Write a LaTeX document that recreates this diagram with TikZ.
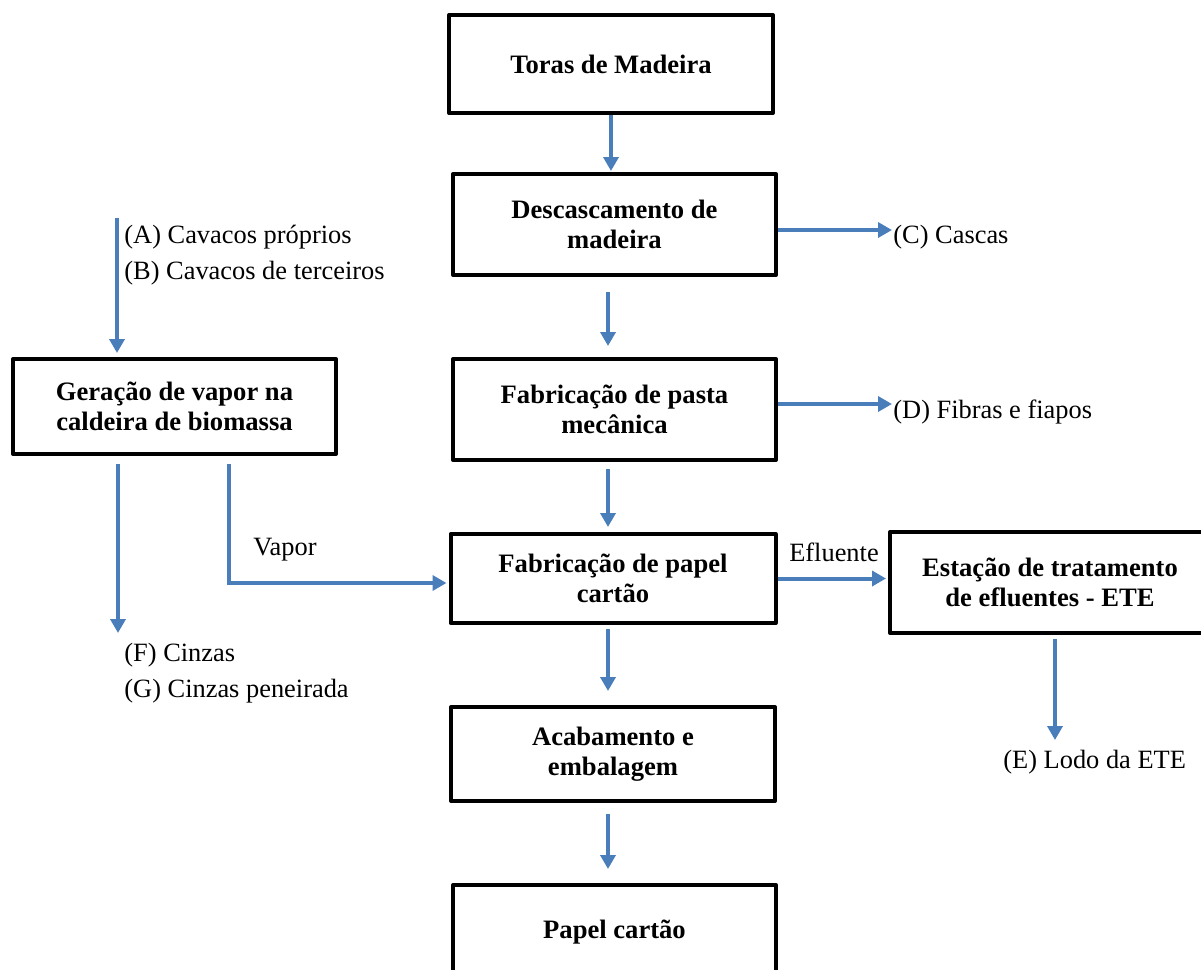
\documentclass[tikz,border=0pt]{standalone}
\usepackage{fontspec}
\setmainfont{Liberation Serif}
\usetikzlibrary{arrows.meta}
\definecolor{flowblue}{RGB}{74,126,187}
\newcommand\stepfont{\fontsize{13.3}{15}\selectfont\bfseries}
\newcommand\notefont{\fontsize{13.2}{15}\selectfont}
\tikzset{
  stepbox/.style={draw=black, line width=2pt, line join=round, fill=white,
    align=center, font=\stepfont, inner sep=0pt},
  flow/.style={draw=flowblue, line width=2pt,
    -{Triangle[length=7pt,width=7.5pt]}},
  note/.style={font=\notefont, inner sep=0pt},
}
\begin{document}
\begin{tikzpicture}[x=0.5pt,y=-0.5pt]
\path[use as bounding box, clip] (0,0) rectangle (1201,970);
\fill[white] (0,0) rectangle (1201,970);

% process steps
\node[stepbox, minimum width=162pt, minimum height=49pt]   (toras)  at (611,64)     {Toras de Madeira};
\node[stepbox, minimum width=161.5pt, minimum height=50.5pt] (desc) at (614.5,224.5) {Descascamento de\\madeira};
\node[stepbox, minimum width=161.5pt, minimum height=50.5pt] (pasta) at (614.5,409.5) {Fabricação de pasta\\mecânica};
\node[stepbox, minimum width=162.5pt, minimum height=44.5pt] (papel) at (613,578.5)  {Fabricação de papel\\cartão};
\node[stepbox, minimum width=162pt, minimum height=47pt]   (acab)   at (613,754)     {Acabamento e\\embalagem};
\node[stepbox, minimum width=161.5pt, minimum height=47pt] (final)  at (614.5,932)   {Papel cartão};
\node[stepbox, minimum width=161.5pt, minimum height=47.5pt] (gerac) at (174.5,406.5) {Geração de vapor na\\caldeira de biomassa};
\node[stepbox, minimum width=160pt, minimum height=50.5pt] (ete)    at (1050,582.5)  {Estação de tratamento\\de efluentes - ETE};

% side notes
\node[note, anchor=west] (cavA)   at (124,237) {(A) Cavacos próprios};
\node[note, anchor=west] (cavB)   at (124,273) {(B) Cavacos de terceiros};
\node[note, anchor=west] (cascas) at (893,237) {(C) Cascas};
\node[note, anchor=west] (fibras) at (893,412) {(D) Fibras e fiapos};
\node[note, anchor=west] (lodo)   at (1003,762) {(E) Lodo da ETE};
\node[note, anchor=west] (cinzF)  at (124,655) {(F) Cinzas};
\node[note, anchor=west] (cinzG)  at (124,691) {(G) Cinzas peneirada};
\node[note] (vapor)    at (285,550) {Vapor};
\node[note] (efluente) at (834,552) {Efluente};

\coordinate (chips)  at (117,218);
\coordinate (ashes)  at (118,633);
\coordinate (sludge) at (1055,740);

% main line
\draw[flow, shorten >=0.5pt] (toras.south) -- (toras.south |- desc.north);
\draw[flow, shorten <=7.5pt, shorten >=5.5pt] ([xshift=-3.25pt]desc.south) -- ([xshift=-3.25pt]desc.south |- pasta.north);
\draw[flow, shorten <=3.5pt, shorten >=2.5pt] ([xshift=-3.25pt]pasta.south) -- ([xshift=-3.25pt]pasta.south |- papel.north);
\draw[flow, shorten <=2pt, shorten >=7pt] ([xshift=-2.5pt]papel.south) -- ([xshift=-2.5pt]papel.south |- acab.north);
\draw[flow, shorten <=5.5pt, shorten >=7pt] ([xshift=-2.5pt]acab.south) -- ([xshift=-2.5pt]acab.south |- final.north);

% by-products
\draw[flow, shorten >=0.5pt] ([yshift=-2.75pt]desc.east) -- ([yshift=-2.75pt]desc.east -| cascas.west);
\draw[flow, shorten >=0.5pt] ([yshift=2.75pt]pasta.east) -- ([yshift=2.75pt]pasta.east -| fibras.west);
\draw[flow, shorten >=1pt] (papel.east) -- (papel.east -| ete.west);
\draw[flow, shorten <=2pt] ([xshift=2.5pt]ete.south) -- (sludge);

% boiler
\draw[flow, shorten >=2pt] (chips) -- (chips |- gerac.north);
\draw[flow, shorten <=4pt] (ashes |- gerac.south) -- (ashes);
\draw[flow, shorten <=4pt, shorten >=1pt] ([xshift=27.25pt]gerac.south) |- ([yshift=-2.25pt]papel.west);
\end{tikzpicture}
\end{document}
